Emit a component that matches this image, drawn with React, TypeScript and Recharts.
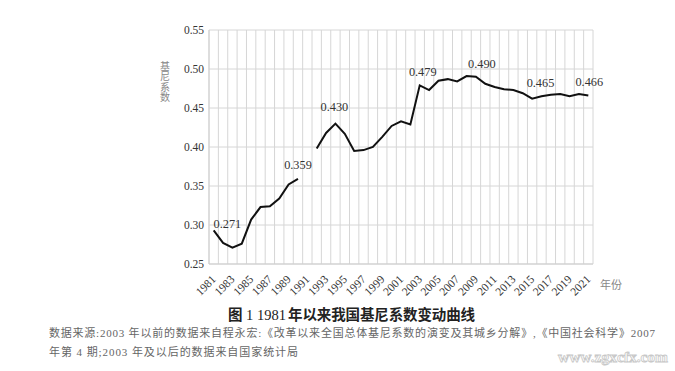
import React from 'react';
import { LineChart, Line, XAxis, YAxis, CartesianGrid, LabelList } from 'recharts';

const years = [
  1981, 1982, 1983, 1984, 1985, 1986, 1987, 1988, 1989, 1990,
  1991, 1992, 1993, 1994, 1995, 1996, 1997, 1998, 1999, 2000,
  2001, 2002, 2003, 2004, 2005, 2006, 2007, 2008, 2009, 2010,
  2011, 2012, 2013, 2014, 2015, 2016, 2017, 2018, 2019, 2020, 2021,
];

const gini: (number | null)[] = [
  0.293, 0.277, 0.271, 0.276, 0.307, 0.323, 0.324, 0.334, 0.352, 0.359,
  null, 0.398, 0.418, 0.430, 0.417, 0.395, 0.396, 0.400, 0.413, 0.427,
  0.433, 0.429, 0.479, 0.473, 0.485, 0.487, 0.484, 0.491, 0.490, 0.481,
  0.477, 0.474, 0.473, 0.469, 0.462, 0.465, 0.467, 0.468, 0.465, 0.468, 0.466,
];

const labelYears = [1983, 1990, 1994, 2003, 2009, 2016, 2021];
const labelTexts = ['0.271', '0.359', '0.430', '0.479', '0.490', '0.465', '0.466'];

const xTickYears = [1981, 1983, 1985, 1987, 1989, 1991, 1993, 1995, 1997, 1999, 2001, 2003, 2005, 2007, 2009, 2011, 2013, 2015, 2017, 2019, 2021];
const yTicks = [0.25, 0.3, 0.35, 0.4, 0.45, 0.5, 0.55];

const yAxisTitle = '基尼系数';
const xAxisTitle = '年份';
const titleFig = '图';
const titleNum = '1';
const titleYear = '1981';
const titleRest = '年以来我国基尼系数变动曲线';
const sourceLine1 = '数据来源:2003 年以前的数据来自程永宏:《改革以来全国总体基尼系数的演变及其城乡分解》,《中国社会科学》2007';
const sourceLine2 = '年第 4 期;2003 年及以后的数据来自国家统计局';
const watermark = 'www.zgxcfx.com';

const data = years.map((year, i) => {
  const li = labelYears.indexOf(year);
  return { year, gini: gini[i], label: li >= 0 ? labelTexts[li] : undefined };
});

const gridBounds = years.map((y) => y - 0.5).concat([years[years.length - 1] + 0.5]);

// label placement tweaks (style only)
const labelShift: Record<string, [number, number]> = {
  '0.271': [-5, -20],
  '0.359': [0, -10],
  '0.430': [-1, -13],
  '0.479': [3, -9],
  '0.490': [6, -9],
  '0.465': [-1, -9],
  '0.466': [1, -10],
};

const SERIF = "'Liberation Serif', 'Times New Roman', serif";
const CJK = "'Liberation Serif', 'Noto Sans CJK SC', sans-serif";

const XTick = (props: any) => {
  const { x, y, payload } = props;
  const ax = x + 3;
  const ay = y + 16;
  return (
    <text
      x={ax}
      y={ay}
      transform={`rotate(-45 ${ax} ${ay})`}
      textAnchor="end"
      fontFamily={SERIF}
      fontSize={11.5}
      fill="#333"
    >
      {payload.value}
    </text>
  );
};

const PointLabel = (props: any) => {
  const { x, y, value } = props;
  if (value === undefined || value === null) return null;
  const s = labelShift[value] || [0, -9];
  return (
    <text x={x + s[0]} y={y + s[1]} textAnchor="middle" fontFamily={SERIF} fontSize={12.3} fill="#333">
      {value}
    </text>
  );
};

export default function App() {
  return (
    <div style={{ position: 'absolute', left: 0, top: 0, width: 675, height: 371, background: '#fff' }}>
      <LineChart width={675} height={371} data={data} margin={{ top: 30, right: 82, bottom: 77, left: 0 }}>
        <CartesianGrid stroke="#d6d6d6" strokeWidth={1} verticalValues={gridBounds} />
        <XAxis
          dataKey="year"
          type="number"
          domain={[gridBounds[0], gridBounds[gridBounds.length - 1]]}
          ticks={xTickYears}
          interval={0}
          height={30}
          tickLine={false}
          tickSize={0}
          tickMargin={0}
          axisLine={{ stroke: '#cfcfcf' }}
          tick={<XTick />}
        />
        <YAxis
          domain={[0.25, 0.55]}
          ticks={yTicks}
          width={209}
          tickLine={false}
          tickSize={0}
          tickMargin={5}
          axisLine={{ stroke: '#cfcfcf' }}
          tickFormatter={(v: number) => v.toFixed(2)}
          tick={{ fontFamily: SERIF, fontSize: 11.5, fill: '#333' }}
        />
        <Line
          dataKey="gini"
          stroke="#111"
          strokeWidth={2}
          dot={false}
          isAnimationActive={false}
          connectNulls={false}
        >
          <LabelList dataKey="label" content={<PointLabel />} />
        </Line>
      </LineChart>
      <svg
        width={675}
        height={371}
        style={{ position: 'absolute', left: 0, top: 0, pointerEvents: 'none' }}
      >
        <text
          x={165}
          y={61}
          fontFamily="'Noto Sans CJK SC', sans-serif"
          fontSize={10}
          fill="#888"
          style={{ writingMode: 'vertical-rl', textOrientation: 'upright', letterSpacing: '0.5px' } as any}
        >
          {yAxisTitle}
        </text>
        <text x={600} y={289} fontFamily="'Noto Sans CJK SC', sans-serif" fontSize={11} fill="#888">
          {xAxisTitle}
        </text>
        <text y={320} fontSize={14.5} fill="#222">
          <tspan x={228} fontFamily="'Noto Sans CJK SC', sans-serif" fontWeight="bold">{titleFig}</tspan>
          <tspan x={246} fontFamily={SERIF}>{titleNum}</tspan>
          <tspan x={257} fontFamily={SERIF}>{titleYear}</tspan>
          <tspan x={288} fontFamily="'Noto Sans CJK SC', sans-serif" fontWeight="bold" textLength={187} lengthAdjust="spacing">
            {titleRest}
          </tspan>
        </text>
        <text x={49} y={337} fontFamily={CJK} fontSize={11} fill="#666" textLength={606} lengthAdjust="spacing">
          {sourceLine1}
        </text>
        <text x={49} y={356} fontFamily={CJK} fontSize={11} fill="#666" textLength={249} lengthAdjust="spacing">
          {sourceLine2}
        </text>
        <text
          x={558}
          y={362}
          fontFamily={SERIF}
          fontSize={15}
          fontWeight="bold"
          fill="#fff"
          stroke="#c8c8c8"
          strokeWidth={0.8}
          textLength={110}
          lengthAdjust="spacingAndGlyphs"
        >
          {watermark}
        </text>
      </svg>
    </div>
  );
}
